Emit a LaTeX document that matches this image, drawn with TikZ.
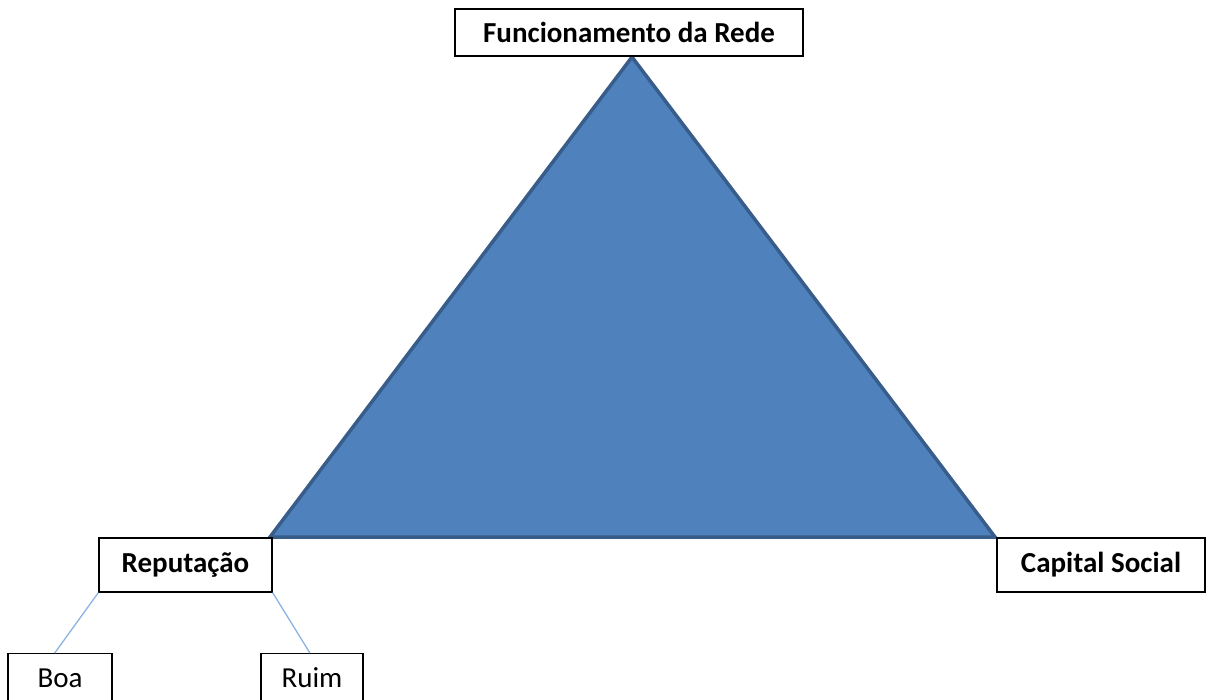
\documentclass[tikz,border=0pt]{standalone}
\usepackage{fontspec}
\setmainfont{Carlito}
\usetikzlibrary{calc}
\definecolor{trifill}{HTML}{4F81BD}
\definecolor{triedge}{HTML}{385D8A}
\definecolor{linkblue}{HTML}{8DB3E2}
\tikzset{
  box/.style={draw=black, fill=white, line width=1.3pt, rectangle, inner sep=0pt,
    font=\fontsize{29}{31}\selectfont\bfseries},
  leafbox/.style={draw=black, fill=white, line width=1.3pt, rectangle, inner xsep=0pt,
    anchor=north, text height=20pt, text depth=2pt, inner ysep=14pt,
    font=\fontsize{29}{31}\selectfont},
  link/.style={draw=linkblue, line width=1.3pt}
}
\begin{document}
\begin{tikzpicture}[x=1pt,y=-1pt]
\useasboundingbox (0,0) rectangle (1207,700);
\clip (0,0) rectangle (1207,700);
\fill[white] (0,0) rectangle (1207,700);
% triangle
\coordinate (apex) at (632,57);
\coordinate (bl) at (270,537);
\coordinate (br) at (995,537);
\filldraw[fill=trifill, draw=triedge, line width=3.5pt, line join=miter] (apex) -- (bl) -- (br) -- cycle;
% boxes
\node[box, minimum width=348pt, minimum height=47pt] (top) at (629,32.5) {Funcionamento da Rede};
\node[box, minimum width=173pt, minimum height=54pt] (rep) at (185.5,565) {Reputação};
\node[box, minimum width=208pt, minimum height=54pt] (cap) at (1101,565) {Capital Social};
\node[leafbox, minimum width=104pt] (boa) at (60,653) {Boa};
\node[leafbox, minimum width=102pt] (ruim) at (312,653) {Ruim};
% connectors
\draw[link] (rep.south west) -- ($(boa.north west)!0.45!(boa.north east)$);
\draw[link] (rep.south east) -- ($(ruim.north west)!0.48!(ruim.north east)$);
\end{tikzpicture}
\end{document}
